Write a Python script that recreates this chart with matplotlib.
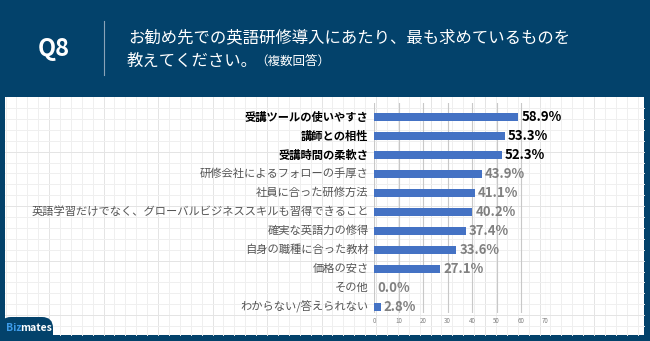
import numpy as np
import matplotlib.pyplot as plt
from matplotlib.patches import Rectangle, FancyBboxPatch

plt.rcParams['font.family'] = ['Noto Sans CJK JP', 'DejaVu Sans']

# data
labels = [
    "受講ツールの使いやすさ",
    "講師との相性",
    "受講時間の柔軟さ",
    "研修会社によるフォローの手厚さ",
    "社員に合った研修方法",
    "英語学習だけでなく、グローバルビジネススキルも習得できること",
    "確実な英語力の修得",
    "自身の職種に合った教材",
    "価格の安さ",
    "その他",
    "わからない/答えられない",
]
values = [58.9, 53.3, 52.3, 43.9, 41.1, 40.2, 37.4, 33.6, 27.1, 0.0, 2.8]
highlight = [True, True, True] + [False] * 8
x_ticks = [0, 10, 20, 30, 40, 50, 60, 70]

title_q = "Q8"
title_line1 = "お勧め先での英語研修導入にあたり、最も求めているものを"
title_line2 = "教えてください。"
title_note = "（複数回答）"

NAVY = "#03426b"
BAR = "#4472c4"
GRAY = "#808080"

W, H = 650, 341
fig = plt.figure(figsize=(6.5, 3.41), dpi=100)
fig.patch.set_facecolor(NAVY)

# background layer in pixel coords (y down)
bg = fig.add_axes([0, 0, 1, 1])
bg.set_xlim(0, W)
bg.set_ylim(H, 0)
bg.axis("off")

px0, px1, py0, py1 = 5, 644, 97, 335
bg.add_patch(Rectangle((px0, py0), px1 - px0, py1 - py0, facecolor="white", edgecolor="none", zorder=0))
# graph paper pattern
step = 10.9
for i, x in enumerate(np.arange(px0 + 0.5, px1, step)):
    bg.plot([x, x], [py0, py1], color="#e4e4e4" if i % 5 == 4 else "#efefef", lw=0.7, zorder=1)
for i, y in enumerate(np.arange(py0 + 11, py1, step)):
    bg.plot([px0, px1], [y, y], color="#e4e4e4" if i % 5 == 4 else "#efefef", lw=0.7, zorder=1)

# header
bg.text(54, 49, title_q, color="white", fontsize=17, fontweight="bold", ha="center", va="center", zorder=3)
bg.plot([104, 104], [21, 75], color="#8aa3b8", lw=0.8, zorder=3)
bg.text(128, 38, title_line1, color="white", fontsize=11.8, ha="left", va="center", zorder=3)
t2 = bg.text(127, 61, title_line2, color="white", fontsize=11.8, ha="left", va="center", zorder=3)
# put the note right after the second line
fig.canvas.draw()
ext = t2.get_window_extent()
note_x = bg.transData.inverted().transform((ext.x1, ext.y0))[0]
bg.text(note_x - 3, 61, title_note, color="white", fontsize=9, ha="left", va="center", zorder=3)

# logo tab
bg.add_patch(FancyBboxPatch((0, 317), 53, 30, boxstyle="round,pad=0,rounding_size=11",
                            facecolor=NAVY, edgecolor="none", zorder=4))
bg.text(6, 328, "Biz", color="#3d9be9", fontsize=7.5, fontweight="bold", ha="left", va="center", zorder=5)
bg.text(20.5, 328, "mates", color="white", fontsize=7.5, fontweight="bold", ha="left", va="center", zorder=5)

# chart axes: 0 at x=374, 70 at x=545.5; rows centred 117..307
x0, x70 = 374, 545.5
ytop, ybot = 103, 313
ax = fig.add_axes([x0 / W, 1 - ybot / H, (x70 - x0) / W, (ybot - ytop) / H])
ax.patch.set_alpha(0)
n = len(labels)
pos = np.arange(n)
row = 19.0
ax.set_ylim((ybot - 117) / row, (ytop - 117) / row)
ax.set_xlim(0, 70)
ax.set_xticks(x_ticks)
ax.set_xticklabels([str(t) for t in x_ticks], fontsize=4.5, color=GRAY)
ax.tick_params(axis="x", length=0, pad=3)
ax.set_yticks([])
for s in ax.spines.values():
    s.set_visible(False)
for t in x_ticks:
    ax.axvline(t, color="#c8c8c8", lw=0.8, zorder=1)

ax.barh(pos, values, height=0.38, color=BAR, zorder=2)

for i, (lab, v, hl) in enumerate(zip(labels, values, highlight)):
    ax.text(-2.2, i, lab, ha="right", va="center", fontsize=8.1,
            color="black" if hl else "#555555",
            fontweight="bold" if hl else "normal", clip_on=False)
    ax.text(v + 1.2, i, f"{v:.1f}%", ha="left", va="center", fontsize=9.5,
            color="black" if hl else GRAY, fontweight="bold", clip_on=False)

fig.savefig("out.png", dpi=100, facecolor=fig.get_facecolor())
